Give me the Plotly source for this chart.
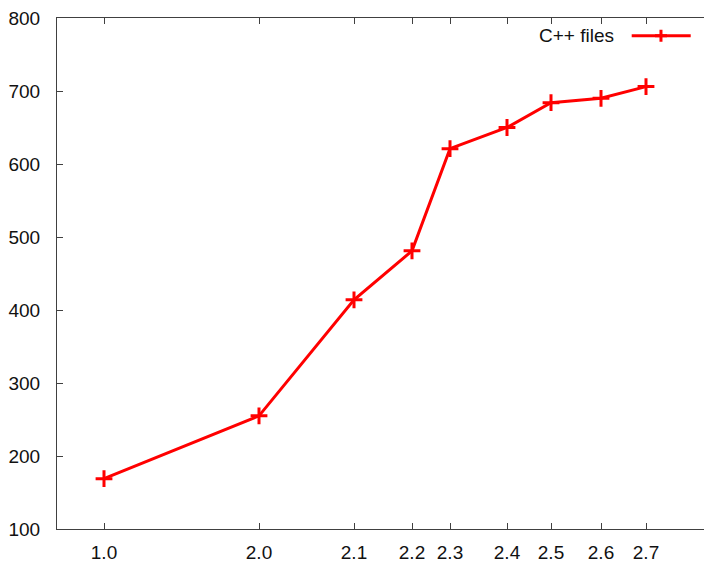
import plotly.graph_objects as go

# Data
versions = ["1.0", "2.0", "2.1", "2.2", "2.3", "2.4", "2.5", "2.6", "2.7"]
release_time = [4.7, 20.2, 29.7, 35.5, 39.3, 45.0, 49.4, 54.4, 58.9]
cpp_files = [169, 255, 414, 481, 621, 650, 684, 690, 706]
series_name = "C++ files"

X_RANGE = [0, 65.5]
Y_RANGE = [100, 800]
RED = "#ff0000"
AXIS_COLOR = "#404040"
FONT = "Liberation Sans, Arial, sans-serif"

fig = go.Figure()
fig.add_trace(go.Scatter(
    x=release_time, y=cpp_files, mode="lines+markers", name=series_name,
    line=dict(color=RED, width=3),
    marker=dict(symbol="cross-thin", size=12, line=dict(color=RED, width=3), color=RED),
    showlegend=False,
))

tick_style = dict(ticks="inside", ticklen=6, tickcolor=AXIS_COLOR, tickwidth=1,
                  showgrid=False, zeroline=False, automargin=False)
label_font = dict(family=FONT, size=19, color="#111111")

fig.update_layout(
    xaxis=dict(range=X_RANGE, tickmode="array", tickvals=release_time,
               ticktext=versions, showline=True, linecolor=AXIS_COLOR,
               linewidth=1, mirror="allticks", ticklabelstandoff=6,
               ticklabeloverflow="allow", tickfont=label_font, **tick_style),
    yaxis=dict(range=Y_RANGE, tickmode="linear", tick0=100, dtick=100,
               showline=True, linecolor=AXIS_COLOR, linewidth=1, mirror=False,
               ticklabelstandoff=12, ticklabeloverflow="allow",
               tickfont=label_font, **tick_style),
    # right-hand mirror ticks (border itself lies just outside the picture)
    yaxis2=dict(range=Y_RANGE, tickmode="linear", tick0=100, dtick=100,
                overlaying="y", side="right", anchor="x", showline=False,
                showticklabels=False, **tick_style),
)

# Legend (gnuplot style: text then sample on the right)
W, H = 655.0, 511.0
ly = 0.9655
fig.add_annotation(xref="paper", yref="paper", x=0.8534, y=ly, text=series_name,
                   showarrow=False, xanchor="right", yanchor="middle",
                   font=dict(family=FONT, size=19, color="#111111"))
fig.add_shape(type="line", xref="paper", yref="paper", x0=0.8774, x1=0.9675,
              y0=ly, y1=ly, line=dict(color=RED, width=3))
cx, dx, dy = 0.9221, 6 / W, 6 / H
fig.add_shape(type="path", xref="paper", yref="paper",
              path=f"M {cx-dx} {ly} L {cx+dx} {ly} M {cx} {ly-dy} L {cx} {ly+dy}",
              line=dict(color=RED, width=3))

# page body has an 8px margin, so the figure is shrunk and shifted accordingly
fig.update_layout(
    width=704, height=553,
    margin=dict(l=49, r=0, t=10, b=32),
    plot_bgcolor="white", paper_bgcolor="white",
    font=dict(family=FONT),
)

fig.write_html("out.html")
